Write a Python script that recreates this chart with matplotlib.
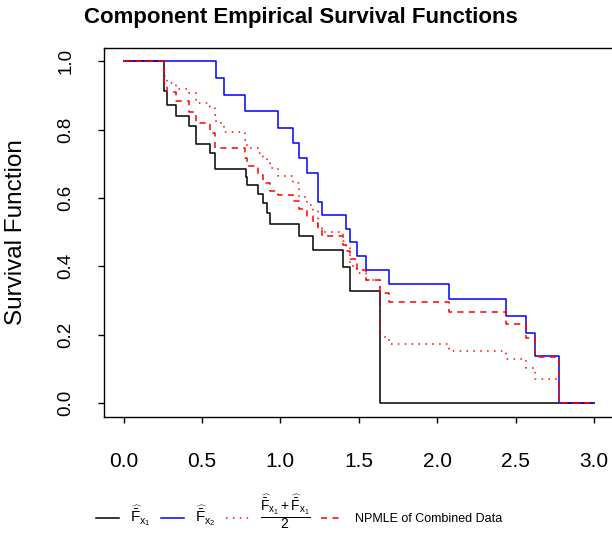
import matplotlib
matplotlib.use("Agg")
import matplotlib.pyplot as plt
import numpy as np

plt.rcParams['font.family'] = ['Liberation Sans', 'DejaVu Sans']
plt.rcParams['mathtext.fontset'] = 'custom'
plt.rcParams['mathtext.rm'] = 'Liberation Sans'
plt.rcParams['mathtext.it'] = 'Liberation Sans'
plt.rcParams['mathtext.bf'] = 'Liberation Sans:bold'

# component 1 (black)
t_x1 = [0.0, 0.257, 0.278, 0.335, 0.416, 0.459, 0.554, 0.586, 0.781, 0.790,
        0.860, 0.892, 0.917, 0.936, 1.119, 1.208, 1.400, 1.441, 1.637]
s_x1 = [1.0, 0.912, 0.871, 0.839, 0.811, 0.758, 0.732, 0.686, 0.662, 0.637,
        0.611, 0.584, 0.556, 0.523, 0.488, 0.449, 0.399, 0.329, 0.0]

# component 2 (blue)
t_x2 = [0.0, 0.590, 0.643, 0.777, 0.985, 1.078, 1.121, 1.170, 1.242, 1.262,
        1.416, 1.442, 1.490, 1.543, 1.694, 2.072, 2.436, 2.565, 2.620, 2.777]
s_x2 = [1.0, 0.951, 0.901, 0.854, 0.805, 0.762, 0.717, 0.673, 0.589, 0.551,
        0.510, 0.470, 0.430, 0.389, 0.347, 0.303, 0.256, 0.205, 0.139, 0.0]

# NPMLE of combined data (red dashed)
t_np = [0.0, 0.257, 0.278, 0.335, 0.416, 0.459, 0.554, 0.586, 0.777, 0.790,
        0.860, 0.892, 0.936, 0.985, 1.078, 1.119, 1.170, 1.208, 1.242, 1.262,
        1.400, 1.416, 1.441, 1.490, 1.543, 1.637, 1.694, 2.072, 2.436, 2.565,
        2.620, 2.777]
s_np = [1.0, 0.935, 0.910, 0.883, 0.850, 0.819, 0.790, 0.745, 0.718, 0.693,
        0.668, 0.645, 0.620, 0.609, 0.590, 0.568, 0.548, 0.528, 0.505, 0.489,
        0.462, 0.445, 0.420, 0.390, 0.361, 0.323, 0.295, 0.266, 0.232, 0.191,
        0.136, 0.0]

t_end = 3.0


def step_xy(t, s):
    return np.append(t, t_end), np.append(s, s[-1])


def step_at(t, s, x):
    idx = np.searchsorted(t, x, side='right') - 1
    return np.asarray(s)[idx]


# average of the two component curves (red dotted)
t_avg = np.union1d(t_x1, t_x2)
s_avg = (step_at(t_x1, s_x1, t_avg) + step_at(t_x2, s_x2, t_avg)) / 2

fig = plt.figure(figsize=(6.12, 5.38), dpi=100)
ax = fig.add_axes([104.3 / 612, 121.3 / 538, 508.8 / 612, 369.2 / 538])

lw = 1.1
h1, = ax.step(*step_xy(t_x1, s_x1), where='post', color='black', lw=lw)
h2, = ax.step(*step_xy(t_x2, s_x2), where='post', color='blue', lw=lw)
h3, = ax.step(*step_xy(t_avg, s_avg), where='post', color='red', lw=lw,
              linestyle=(0, (1, 3.5)))
h4, = ax.step(*step_xy(t_np, s_np), where='post', color='red', lw=lw,
              linestyle=(0, (4, 3.5)))

ax.set_xlim(-0.1224, 3.12)
ax.set_ylim(-0.04, 1.04)
ax.set_xticks(np.arange(0, 3.01, 0.5))
ax.set_yticks(np.arange(0, 1.01, 0.2))
ax.xaxis.set_major_formatter(matplotlib.ticker.FormatStrFormatter('%.1f'))
ax.yaxis.set_major_formatter(matplotlib.ticker.FormatStrFormatter('%.1f'))
ax.tick_params(axis='x', length=4.5, width=1, labelsize=15, pad=21)
ax.tick_params(axis='y', length=4.5, width=1, labelsize=13.5, pad=17)
for lab in ax.get_yticklabels():
    lab.set_rotation(90)
    lab.set_va('center')
for sp in ax.spines.values():
    sp.set_linewidth(1)

fig.text(16 / 612, 1 - 232 / 538, 'Survival Function', rotation=90,
         ha='center', va='center', fontsize=17.5)
fig.text(300.5 / 612, 1 - 17 / 538, 'Component Empirical Survival Functions',
         ha='center', va='center', fontsize=16, fontweight='bold')

labels = [r'$\widehat{\bar{F}}_{x_1}$', r'$\widehat{\bar{F}}_{x_2}$',
          r'$\dfrac{\widehat{\bar{F}}_{x_1}+\widehat{\bar{F}}_{x_1}}{2}$',
          'NPMLE of Combined Data']
leg = fig.legend([h1, h2, h3, h4], labels, ncol=4, loc='center',
                 bbox_to_anchor=(299 / 612, 1 - 512 / 538), frameon=False,
                 fontsize=9, handlelength=1.85, handletextpad=0.9,
                 columnspacing=0.8)
for txt in leg.get_texts()[:2]:
    txt.set_fontsize(11)
leg.get_texts()[2].set_fontsize(10)

fig.savefig('out.png', dpi=100)
